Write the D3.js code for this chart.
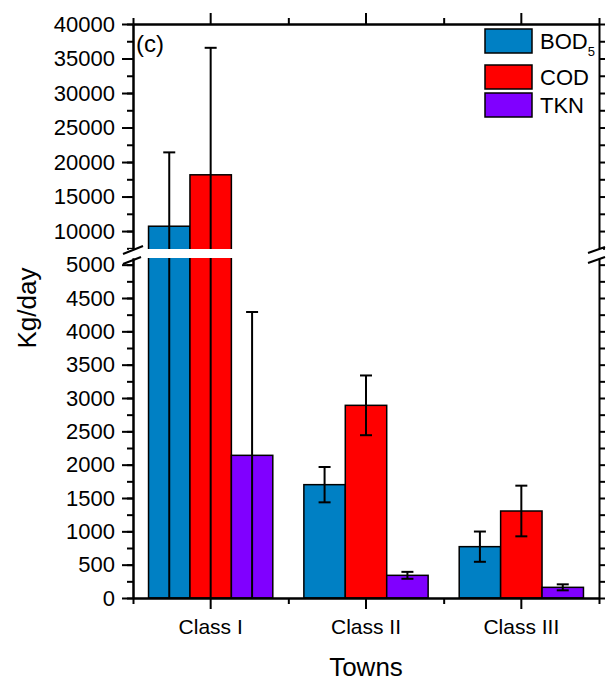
<!DOCTYPE html>
<html>
<head>
<meta charset="utf-8">
<script src="https://cdn.jsdelivr.net/npm/d3@7"></script>
<style>
  body { margin: 0; background: #fff; }
  svg text { font-family: "Liberation Sans", Arial, sans-serif; fill: #000; }
</style>
</head>
<body>
<div id="chart"></div>
<script>
(function () {
    /* ----------------------- Data ----------------------- */
    const categories = ["Class I", "Class II", "Class III"];
    const seriesNames = ["BOD5", "COD", "TKN"];
    const bodMeans = [10700, 1700, 770];
    const bodErr = [10700, 265, 227];
    const codMeans = [18150, 2890, 1305];
    const codErr = [18400, 448, 380];
    const tknMeans = [2140, 340, 160];
    const tknErr = [2150, 52, 45];
    const lowerTicks = d3.range(0, 5001, 500);
    const upperTicks = d3.range(10000, 40001, 5000);
    const colors = ["#0080c4", "#ff0000", "#8000ff"];

    const rows = [];
    categories.forEach((c, i) => {
        rows.push({ cat: c, s: "BOD5", v: bodMeans[i], e: bodErr[i] });
        rows.push({ cat: c, s: "COD", v: codMeans[i], e: codErr[i] });
        rows.push({ cat: c, s: "TKN", v: tknMeans[i], e: tknErr[i] });
    });

    /* ----------------------- Layout ----------------------- */
    const W = 611, H = 682;
    const left = 133, right = 599, top = 24, bottom = 598;
    const gapTop = 249, gapBottom = 258;

    const svg = d3.select("#chart").append("svg")
        .attr("width", W).attr("height", H);

    /* ----------------------- Scales ----------------------- */
    const x0 = d3.scaleBand().domain(categories).range([left, right]).padding(0);
    const x1 = d3.scaleBand().domain(seriesNames)
        .range([x0.bandwidth() * 0.1, x0.bandwidth() * 0.9]).padding(0);
    const yLow = d3.scaleLinear().domain([0, 5100]).range([bottom, gapBottom]);
    const yUp = d3.scaleLinear().domain([7400, 40000]).range([gapTop, top]);
    const y = v => v <= 5100 ? yLow(v) : yUp(Math.max(v, 7400));
    const color = d3.scaleOrdinal().domain(seriesNames).range(colors);

    /* ----------------------- Bars ----------------------- */
    const groups = svg.selectAll(".grp")
        .data(d3.group(rows, d => d.cat))
        .enter().append("g")
        .attr("transform", d => `translate(${x0(d[0])},0)`);

    groups.selectAll("rect")
        .data(d => d[1])
        .enter().append("rect")
        .attr("x", d => x1(d.s))
        .attr("y", d => y(d.v))
        .attr("width", x1.bandwidth())
        .attr("height", d => y(0) - y(d.v))
        .attr("fill", d => color(d.s))
        .attr("stroke", "#000")
        .attr("stroke-width", 1.5);

    /* error bars */
    const eb = groups.selectAll(".eb")
        .data(d => d[1])
        .enter().append("g")
        .attr("stroke", "#000")
        .attr("stroke-width", 2);
    const cx = d => x1(d.s) + x1.bandwidth() / 2;
    eb.append("line")
        .attr("x1", cx).attr("x2", cx)
        .attr("y1", d => y(d.v + d.e))
        .attr("y2", d => y(Math.max(0, d.v - d.e)));
    eb.append("line")
        .attr("x1", d => cx(d) - 6).attr("x2", d => cx(d) + 6)
        .attr("y1", d => y(d.v + d.e)).attr("y2", d => y(d.v + d.e));
    eb.filter(d => d.v - d.e > 0).append("line")
        .attr("x1", d => cx(d) - 6).attr("x2", d => cx(d) + 6)
        .attr("y1", d => y(d.v - d.e)).attr("y2", d => y(d.v - d.e));

    /* ----------------------- Axes ----------------------- */
    const axisStyle = g => {
        g.selectAll("path, line").attr("stroke", "#000").attr("stroke-width", 2);
        g.selectAll("text").style("font-size", "22px");
    };
    const lowMinor = d3.range(0, 5001, 250);
    const upMinor = d3.range(7500, 40001, 2500);
    const fmt = d3.format("d");

    // left
    svg.append("g").attr("transform", `translate(${left},0)`)
        .call(d3.axisLeft(yLow).tickValues(lowMinor).tickSize(6).tickFormat("").tickSizeOuter(0))
        .call(axisStyle);
    svg.append("g").attr("transform", `translate(${left},0)`)
        .call(d3.axisLeft(yLow).tickValues(lowerTicks).tickSize(11).tickPadding(7).tickFormat(fmt).tickSizeOuter(0))
        .call(axisStyle);
    svg.append("g").attr("transform", `translate(${left},0)`)
        .call(d3.axisLeft(yUp).tickValues(upMinor).tickSize(6).tickFormat("").tickSizeOuter(0))
        .call(axisStyle);
    svg.append("g").attr("transform", `translate(${left},0)`)
        .call(d3.axisLeft(yUp).tickValues(upperTicks).tickSize(11).tickPadding(7).tickFormat(fmt).tickSizeOuter(0))
        .call(axisStyle);

    // right
    svg.append("g").attr("transform", `translate(${right},0)`)
        .call(d3.axisRight(yLow).tickValues(lowMinor).tickSize(6).tickFormat("").tickSizeOuter(0))
        .call(axisStyle);
    svg.append("g").attr("transform", `translate(${right},0)`)
        .call(d3.axisRight(yUp).tickValues(upMinor).tickSize(6).tickFormat("").tickSizeOuter(0))
        .call(axisStyle);

    // bottom / top
    const xEdges = d3.scaleLinear().domain([0, 3]).range([left, right]);
    svg.append("g").attr("transform", `translate(0,${bottom})`)
        .call(d3.axisBottom(xEdges).tickValues([0, 1, 2, 3]).tickSize(6).tickFormat("").tickSizeOuter(0))
        .call(axisStyle);
    svg.append("g").attr("transform", `translate(0,${bottom})`)
        .call(d3.axisBottom(x0).tickSize(11).tickPadding(10).tickSizeOuter(0))
        .call(axisStyle)
        .call(g => g.selectAll("text").style("font-size", "21px"));
    svg.append("g").attr("transform", `translate(0,${top})`)
        .call(d3.axisTop(xEdges).tickValues([0, 1, 2, 3]).tickSize(6).tickFormat("").tickSizeOuter(0))
        .call(axisStyle);
    svg.append("g").attr("transform", `translate(0,${top})`)
        .call(d3.axisTop(x0).tickSize(11).tickFormat("").tickSizeOuter(0))
        .call(axisStyle);

    /* ----------------------- Axis break ----------------------- */
    svg.append("rect")
        .attr("x", left - 4).attr("y", gapTop)
        .attr("width", right - left + 8).attr("height", gapBottom - gapTop)
        .attr("fill", "#fff");
    const slashes = [
        [left - 10, 254, left + 10, 246], [left - 10, 264, left + 8, 257],
        [right - 11, 253, right + 6, 247], [right - 11, 263, right + 6, 257]
    ];
    svg.selectAll(".slash").data(slashes).enter().append("line")
        .attr("x1", d => d[0]).attr("y1", d => d[1])
        .attr("x2", d => d[2]).attr("y2", d => d[3])
        .attr("stroke", "#000").attr("stroke-width", 2);

    /* ----------------------- Labels ----------------------- */
    svg.append("text")
        .attr("transform", `translate(36,308) rotate(-90)`)
        .attr("text-anchor", "middle")
        .style("font-size", "26px")
        .text("Kg/day");
    svg.append("text")
        .attr("x", (left + right) / 2).attr("y", 676)
        .attr("text-anchor", "middle")
        .style("font-size", "26px")
        .text("Towns");
    svg.append("text")
        .attr("x", 136).attr("y", 52)
        .style("font-size", "24px")
        .text("(c)");

    /* ----------------------- Legend ----------------------- */
    const legendY = [29, 65, 93];
    const legend = svg.selectAll(".lg").data(seriesNames).enter().append("g")
        .attr("transform", (d, i) => `translate(485,${legendY[i]})`);
    legend.append("rect")
        .attr("width", 47).attr("height", 24)
        .attr("fill", d => color(d))
        .attr("stroke", "#000").attr("stroke-width", 1.5);
    const lt = legend.append("text")
        .attr("x", 55).attr("y", 20)
        .style("font-size", "22px");
    lt.append("tspan").text(d => d === "BOD5" ? "BOD" : d);
    lt.filter(d => d === "BOD5").append("tspan")
        .attr("dy", 7).style("font-size", "13px").text("5");
})();
</script>
</body>
</html>
